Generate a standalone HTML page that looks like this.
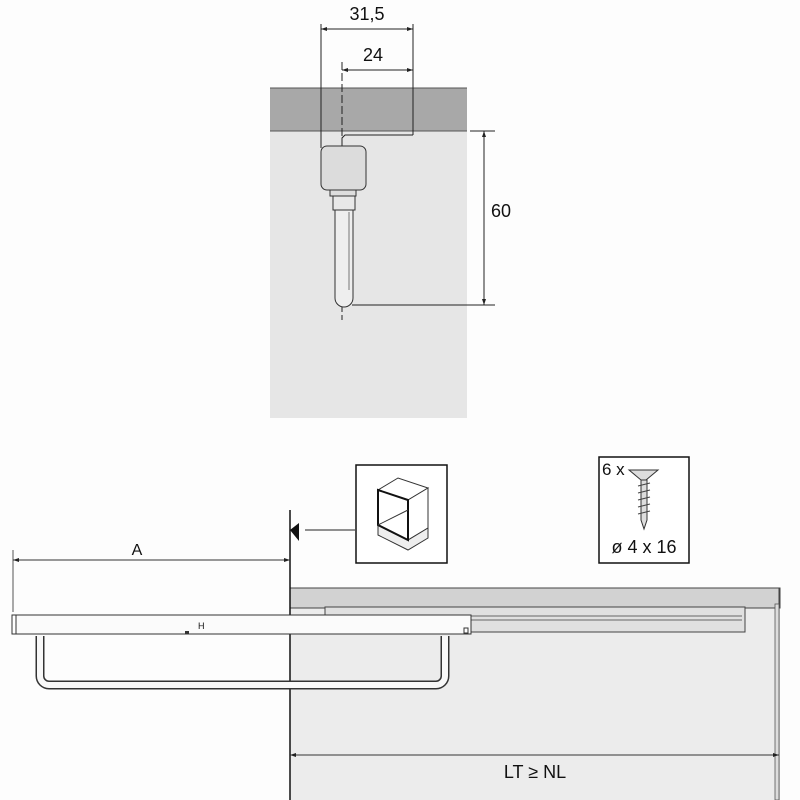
<!DOCTYPE html>
<html><head><style>body{margin:0;background:#fff}svg{display:block}text{font-family:"Liberation Sans",sans-serif;fill:#111}</style></head><body>
<svg width="800" height="800" viewBox="0 0 800 800" xmlns="http://www.w3.org/2000/svg">
<rect width="800" height="800" fill="#fdfdfd"/>
<rect x="270" y="131" width="197" height="287" fill="#e6e6e6"/>
<rect x="270" y="88" width="197" height="43" fill="#a8a8a8"/>
<line x1="270" y1="88" x2="467" y2="88" stroke="#555"/>
<line x1="270" y1="131" x2="467" y2="131" stroke="#555"/>
<g stroke="#222" stroke-width="1" fill="none">
<line x1="321" y1="24" x2="321" y2="148"/>
<line x1="413" y1="24" x2="413" y2="135"/>
<line x1="321" y1="29" x2="413" y2="29"/>
<line x1="342" y1="70" x2="413" y2="70"/>
<line x1="342" y1="62" x2="342" y2="320" stroke-dasharray="8,3"/>
<path d="M413 135 H345 L342 138 V146"/>
<line x1="484" y1="131" x2="484" y2="305"/>
<line x1="470" y1="131" x2="495" y2="131"/>
<line x1="352" y1="305" x2="495" y2="305"/>
</g>
<g fill="#222"><path d="M321 29 l6 -2 v4z M413 29 l-6 -2 v4z M342 70 l6 -2 v4z M413 70 l-6 -2 v4z M484 131 l-2 6 h4z M484 305 l-2 -6 h4z"/></g>
<rect x="321" y="146" width="45" height="44" rx="6" fill="#dcdcdc" stroke="#333"/>
<rect x="330" y="190" width="26" height="6" fill="#ddd" stroke="#333"/>
<rect x="333" y="196" width="22" height="14" fill="#e8e8e8" stroke="#333"/>
<path d="M335 210 V298 a9 9 0 0 0 18 0 V210 Z" fill="#eee" stroke="#333"/>
<line x1="349" y1="212" x2="349" y2="290" stroke="#777"/>
<text x="367" y="20" font-size="18" text-anchor="middle">31,5</text>
<text x="373" y="61" font-size="18" text-anchor="middle">24</text>
<text x="501" y="217" font-size="18" text-anchor="middle">60</text>
<rect x="290" y="608" width="490" height="192" fill="#ececec"/>
<rect x="290" y="588" width="490" height="20" fill="#d2d2d2" stroke="#444"/>
<line x1="779" y1="588" x2="779" y2="800" stroke="#444"/>
<rect x="775" y="604" width="4" height="196" fill="#ddd" stroke="#555" stroke-width="0.8"/>
<rect x="325" y="607" width="420" height="25" fill="#e0e0e0" stroke="#444"/>
<line x1="470" y1="616" x2="742" y2="616" stroke="#666"/>
<line x1="470" y1="620" x2="742" y2="620" stroke="#666"/>
<line x1="290" y1="510" x2="290" y2="800" stroke="#111" stroke-width="1.5"/>
<path d="M290 530 L299 523 V541 Z" fill="#111"/>
<line x1="305" y1="530" x2="355" y2="530" stroke="#222"/>
<rect x="356" y="465" width="91" height="98" fill="#fff" stroke="#111" stroke-width="1.5"/>
<g stroke="#333" fill="#fff">
<path d="M378 490 L398 478 L428 488 L408 500 Z"/>
<path d="M408 500 L428 488 V528 L408 540 Z"/>
<path d="M378 535 L408 550 L428 538 V528 L408 540 L378 525 Z" fill="#eee"/>
</g>
<path d="M378 490 L408 500 V540 L378 525 Z" fill="none" stroke="#111" stroke-width="2"/>
<line x1="378" y1="525" x2="408" y2="510" stroke="#333"/>
<rect x="599" y="457" width="90" height="106" fill="#fff" stroke="#111" stroke-width="1.5"/>
<path d="M629 470 H658 L646 480 H641 Z" fill="#ddd" stroke="#333"/>
<path d="M641 480 H647 V520 L644 529 L641 520 Z" fill="#ddd" stroke="#333"/>
<g stroke="#444"><line x1="638" y1="486" x2="650" y2="483"/><line x1="638" y1="493" x2="650" y2="490"/><line x1="638" y1="500" x2="650" y2="497"/><line x1="638" y1="507" x2="650" y2="504"/><line x1="638" y1="514" x2="650" y2="511"/></g>
<text x="602" y="475" font-size="17">6 x</text>
<text x="644" y="553" font-size="18" text-anchor="middle">ø 4 x 16</text>
<line x1="13" y1="550" x2="13" y2="612" stroke="#555"/>
<line x1="13" y1="560" x2="290" y2="560" stroke="#333"/>
<path d="M13 560 l6 -2 v4z M290 560 l-6 -2 v4z" fill="#222"/>
<text x="137" y="555" font-size="16" text-anchor="middle">A</text>
<path d="M40 636 V676 a9 9 0 0 0 9 9 H436 a9 9 0 0 0 9 -9 V636" fill="none" stroke="#333" stroke-width="9"/>
<path d="M40 636 V676 a9 9 0 0 0 9 9 H436 a9 9 0 0 0 9 -9 V636" fill="none" stroke="#f8f8f8" stroke-width="6"/>
<rect x="13" y="615" width="458" height="19" fill="#fbfbfb" stroke="#333"/>
<rect x="12" y="615" width="4" height="19" fill="#fff" stroke="#333"/>
<rect x="464" y="628" width="4" height="5" fill="#fff" stroke="#333"/>
<rect x="185" y="631" width="4" height="3" fill="#333"/>
<text x="198" y="629" font-size="9">H</text>
<line x1="290" y1="755" x2="779" y2="755" stroke="#333"/>
<path d="M290 755 l6 -2 v4z M779 755 l-6 -2 v4z" fill="#222"/>
<text x="535" y="778" font-size="18" text-anchor="middle">LT ≥ NL</text>
</svg>
</body></html>
